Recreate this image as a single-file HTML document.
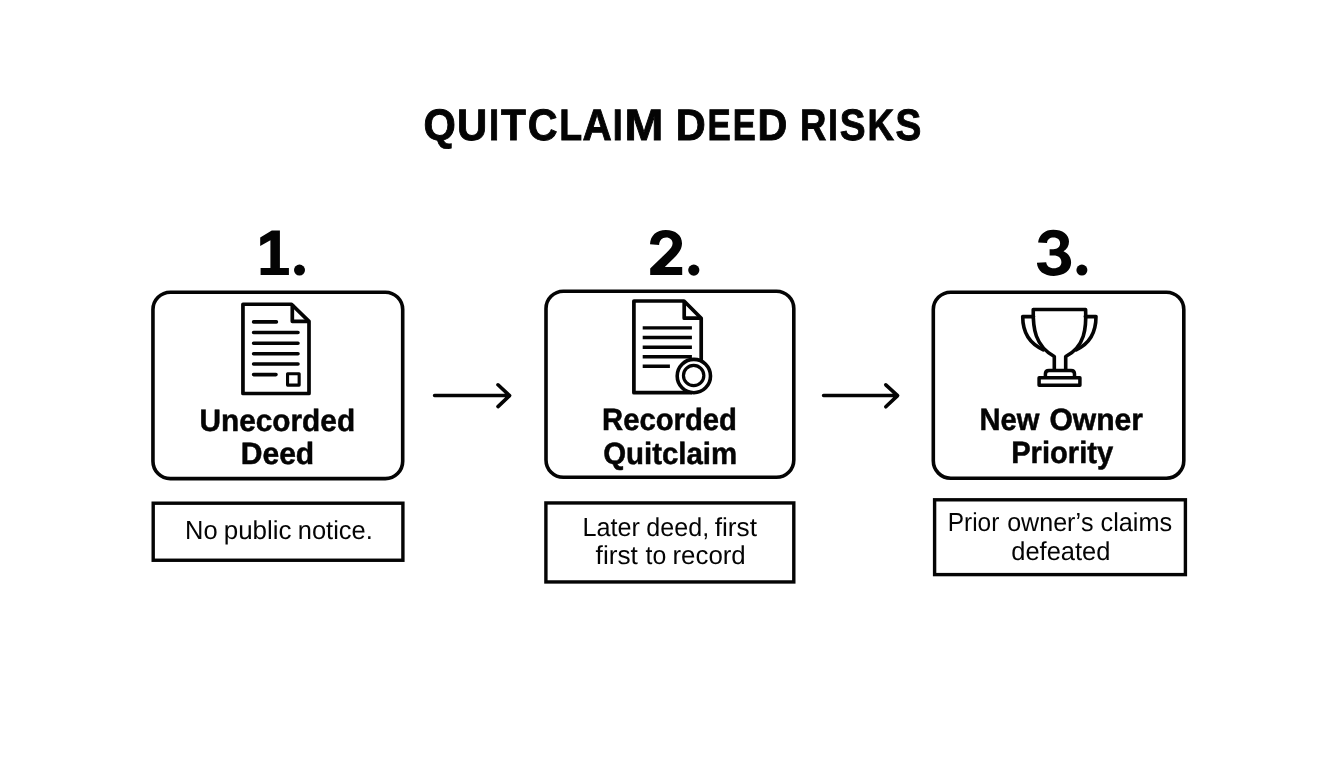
<!DOCTYPE html>
<html lang="en">
<head>
<meta charset="utf-8">
<title>Quitclaim Deed Risks</title>
<style>
  html, body { margin: 0; padding: 0; background: #ffffff; }
  body { width: 1344px; height: 768px; overflow: hidden; font-family: "Liberation Sans", sans-serif; }
  svg { display: block; position: absolute; left: 0; top: 0; will-change: transform; }
  text { font-family: "Liberation Sans", sans-serif; fill: #040404; text-rendering: geometricPrecision; font-kerning: none; }
  .b { font-weight: 700; }
  .ln { fill: none; stroke: #040404; }
</style>
</head>
<body>
<svg width="1344" height="768" viewBox="0 0 1344 768">
  <rect x="0" y="0" width="1344" height="768" fill="#ffffff"/>

  <!-- Title -->
  <text class="b" y="140.0" font-size="44.0" stroke="#040404" stroke-width="0.9"><tspan x="423.42" textLength="32.30" lengthAdjust="spacingAndGlyphs">Q</tspan><tspan x="457.02" textLength="30.21" lengthAdjust="spacingAndGlyphs">U</tspan><tspan x="489.03" textLength="10.13" lengthAdjust="spacingAndGlyphs">I</tspan><tspan x="500.96" textLength="24.86" lengthAdjust="spacingAndGlyphs">T</tspan><tspan x="527.73" textLength="29.78" lengthAdjust="spacingAndGlyphs">C</tspan><tspan x="559.13" textLength="22.89" lengthAdjust="spacingAndGlyphs">L</tspan><tspan x="582.41" textLength="29.25" lengthAdjust="spacingAndGlyphs">A</tspan><tspan x="612.87" textLength="9.96" lengthAdjust="spacingAndGlyphs">I</tspan><tspan x="624.55" textLength="38.89" lengthAdjust="spacingAndGlyphs">M</tspan> <tspan x="675.75" textLength="29.97" lengthAdjust="spacingAndGlyphs">D</tspan><tspan x="707.42" textLength="23.28" lengthAdjust="spacingAndGlyphs">E</tspan><tspan x="732.84" textLength="23.06" lengthAdjust="spacingAndGlyphs">E</tspan><tspan x="757.56" textLength="29.86" lengthAdjust="spacingAndGlyphs">D</tspan> <tspan x="799.93" textLength="26.34" lengthAdjust="spacingAndGlyphs">R</tspan><tspan x="828.07" textLength="9.96" lengthAdjust="spacingAndGlyphs">I</tspan><tspan x="839.78" textLength="25.84" lengthAdjust="spacingAndGlyphs">S</tspan><tspan x="867.62" textLength="26.55" lengthAdjust="spacingAndGlyphs">K</tspan><tspan x="895.53" textLength="25.84" lengthAdjust="spacingAndGlyphs">S</tspan></text>

  <!-- Step numbers -->
  <g fill="#040404">
    <path d="M271.8 230.5 H279.9 V267.9 H288.9 V275 H260.6 V267.9 H270.4 V240.3 L260.2 246.1 V237.6 Z"/>
    <circle cx="299.5" cy="270.1" r="5.5"/>

    <path d="M650 244.3 C650.4 235.5 656.5 230 665.8 230 C675.5 230 682 235.3 682 243.3 C682 249.5 678.5 253.5 673.5 258.5 L664.8 267 H682.2 V274.9 H650.2 V268.6 L666.5 252.7 C670.5 248.8 672.6 246.5 672.6 243.3 C672.6 239.8 670 237.4 666.2 237.4 C662 237.4 659.3 240.3 659.1 245 Z"/>
    <circle cx="693.8" cy="270.1" r="5.6"/>

    <path d="M1038.1 242.4 C1039 234.5 1045 229.7 1053.3 229.7 C1062.5 229.7 1069 234.4 1069 241.6 C1069 246 1067 249.3 1063.5 251.3 C1068.2 253.3 1071.1 257.2 1071.1 262.6 C1071.1 270.6 1064 275.9 1053.8 275.9 C1044 275.9 1037.5 271 1036.9 262.8 L1046.2 262.3 C1046.6 266 1049.5 268.3 1053.8 268.3 C1058.3 268.3 1061.4 266 1061.4 262.3 C1061.4 258.2 1058.5 255.6 1053.5 255.6 H1049.6 V249.2 H1053.3 C1057.5 249.2 1060.1 246.9 1060.1 243.3 C1060.1 239.9 1057.5 237.6 1053.5 237.6 C1049.8 237.6 1047.3 239.6 1047 242.9 Z"/>
    <circle cx="1081.9" cy="270.1" r="5.5"/>
  </g>

  <!-- Main boxes -->
  <g class="ln" stroke-width="3.6">
    <rect x="152.95" y="292.2" width="249.75" height="186.4" rx="17.4" ry="17.4"/>
    <rect x="546" y="291.2" width="247.8" height="186.1" rx="17.4" ry="17.4"/>
    <rect x="933.3" y="292.2" width="250.5" height="186" rx="17.4" ry="17.4"/>
  </g>

  <!-- Note boxes -->
  <g class="ln" stroke-width="3.4">
    <rect x="153.2" y="503.2" width="249.7" height="57.05"/>
    <rect x="545.9" y="502.95" width="247.9" height="79"/>
    <rect x="934.6" y="499.8" width="250.8" height="74.8"/>
  </g>

  <!-- Arrows -->
  <g class="ln" stroke-width="3.6" stroke-linecap="round" stroke-linejoin="round">
    <path d="M434.6 395.5 H509.2 M498 384.8 L509.6 395.6 L498 406.6"/>
    <path d="M823.6 395.5 H897.2 M885.8 384.8 L897.6 395.6 L885.8 406.8"/>
  </g>

  <!-- Icon 1: document -->
  <g class="ln" stroke-width="3.7" stroke-linejoin="round">
    <path d="M242.95 304.25 H291.5 L309 321.3 V393.5 H242.95 Z"/>
    <path d="M292.3 304.25 V321.3 H309"/>
    <g stroke-linecap="round" stroke-width="3.6">
      <path d="M253.6 321.9 H276.4 M253.6 332.5 H298 M253.6 343.2 H298 M253.6 353.8 H298 M253.6 364 H298 M253.6 374.6 H276"/>
    </g>
    <rect x="287.55" y="373.75" width="11.6" height="11.35" stroke-width="3.1"/>
  </g>

  <!-- Icon 2: document with seal -->
  <g class="ln" stroke-width="3.7" stroke-linejoin="round">
    <path d="M701.2 362 V318.3 L684 301 H633.9 V392.7 H692"/>
    <path d="M684.2 301 V318.2 H701.2"/>
    <path stroke-width="3.4" d="M642.7 327.85 H691.9 M642.7 337.5 H691.9 M642.7 347.2 H691.9 M642.7 356.7 H691.9 M642.7 366.3 H669.9"/>
    <circle cx="693.85" cy="376.05" r="16.65" fill="#ffffff" stroke-width="3.6"/>
    <circle cx="693.65" cy="375.5" r="10.2" stroke-width="3.2"/>
  </g>

  <!-- Icon 3: trophy -->
  <g class="ln" stroke-width="3.6" stroke-linejoin="round">
    <path d="M1054.3 370 V356.5 C1035 346 1032.8 328 1033.25 309.5 H1085.6 C1086.5 328 1085 346.5 1065.7 356.5 V370"/>
    <path stroke-linecap="round" d="M1033.5 316.6 H1022.7 C1022.7 330 1028 343 1043.3 349.8"/>
    <path stroke-linecap="round" d="M1085.3 316.6 H1096 C1096 330 1091.3 343 1076.2 349.8"/>
    <path stroke-width="3.5" d="M1045.4 377.7 V374 Q1045.4 370.4 1049 370.4 H1071 Q1074.5 370.4 1074.5 374 V377.7"/>
    <rect stroke-width="3.5" x="1039.1" y="377.7" width="40.8" height="7.6"/>
  </g>

  <!-- Labels -->
  <g class="b" font-size="30.8" stroke="#040404" stroke-width="0.5">
    <text y="431"><tspan x="199.45" textLength="155.67" lengthAdjust="spacingAndGlyphs">Unecorded</tspan></text>
    <text y="464"><tspan x="240.73" textLength="73.50" lengthAdjust="spacingAndGlyphs">Deed</tspan></text>
    <text y="430"><tspan x="602.08" textLength="134.91" lengthAdjust="spacingAndGlyphs">Recorded</tspan></text>
    <text y="464"><tspan x="603.13" textLength="134.05" lengthAdjust="spacingAndGlyphs">Quitclaim</tspan></text>
    <text y="430"><tspan x="979.39" textLength="59.92" lengthAdjust="spacingAndGlyphs">New</tspan> <tspan x="1049.41" textLength="93.60" lengthAdjust="spacingAndGlyphs">Owner</tspan></text>
    <text y="463"><tspan x="1011.19" textLength="102.03" lengthAdjust="spacingAndGlyphs">Priority</tspan></text>
  </g>

  <!-- Notes -->
  <g font-size="26.0">
    <text y="539"><tspan x="185.01" textLength="32.56" lengthAdjust="spacingAndGlyphs">No</tspan> <tspan x="223.73" textLength="67.86" lengthAdjust="spacingAndGlyphs">public</tspan> <tspan x="297.81" textLength="75.02" lengthAdjust="spacingAndGlyphs">notice.</tspan></text>
    <text y="536"><tspan x="582.53" textLength="57.49" lengthAdjust="spacingAndGlyphs">Later</tspan> <tspan x="646.35" textLength="62.81" lengthAdjust="spacingAndGlyphs">deed,</tspan> <tspan x="714.73" textLength="42.26" lengthAdjust="spacingAndGlyphs">first</tspan></text>
    <text y="564"><tspan x="595.63" textLength="42.26" lengthAdjust="spacingAndGlyphs">first</tspan> <tspan x="645.52" textLength="20.72" lengthAdjust="spacingAndGlyphs">to</tspan> <tspan x="672.48" textLength="73.28" lengthAdjust="spacingAndGlyphs">record</tspan></text>
    <text y="531"><tspan x="947.80" textLength="51.51" lengthAdjust="spacingAndGlyphs">Prior</tspan> <tspan x="1007.15" textLength="86.46" lengthAdjust="spacingAndGlyphs">owner’s</tspan> <tspan x="1100.53" textLength="71.64" lengthAdjust="spacingAndGlyphs">claims</tspan></text>
    <text y="560"><tspan x="1011.23" textLength="99.16" lengthAdjust="spacingAndGlyphs">defeated</tspan></text>
  </g>
</svg>
</body>
</html>
